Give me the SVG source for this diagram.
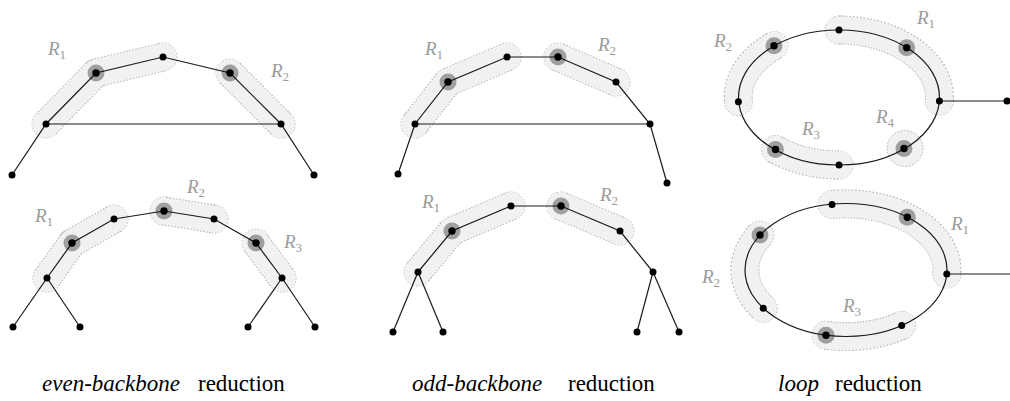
<svg xmlns="http://www.w3.org/2000/svg" width="1010" height="401" viewBox="0 0 1010 401" font-family="Liberation Serif, serif">
<defs>
<path id="r11" d="M46,124 L96,73 L163,57"/>
<path id="r12" d="M230,73 L281,124"/>
<path id="r13" d="M47,278 L72,243 L114,219"/>
<path id="r14" d="M164,211 L214,219"/>
<path id="r15" d="M256,243 L282,278"/>
<path id="r21" d="M415,124 L448,82 L507,57"/>
<path id="r22" d="M558,57 L616,82"/>
<path id="r23" d="M418,272 L452,231 L511,206"/>
<path id="r24" d="M561,206 L620,231"/>
<path id="r31" d="M839,30 A100.5,67.5 0 0 1 939.4,101"/>
<path id="r32" d="M774,45.7 A100.5,67.5 0 0 0 738.4,101.7"/>
<path id="r33" d="M775.5,149.5 A100.5,67.5 0 0 0 839,165"/>
<path id="r41" d="M832,204.5 A101,66.5 0 0 1 946.8,274"/>
<path id="r42" d="M760,235 A101,66.5 0 0 0 763.3,308.3"/>
<path id="r43" d="M826,335.3 A101,66.5 0 0 0 901.7,325.5"/>
<circle id="halo" r="8.5" fill="#000" fill-opacity="0.34"/>
</defs>

<g id="regions">
  <g id="region-outlines" fill="none" stroke="#b3b3b3" stroke-dasharray="1.6 1.6">
    <g stroke-width="29" stroke-linejoin="round">
    <use href="#r11"/><use href="#r12"/><use href="#r13"/><use href="#r14"/><use href="#r15"/>
    <use href="#r21"/><use href="#r22"/><use href="#r23"/><use href="#r24"/>
    <use href="#r31"/><use href="#r32"/><use href="#r33"/><use href="#r41"/><use href="#r42"/><use href="#r43"/>
    </g>
    <g stroke-width="1">
    <circle cx="46" cy="124" r="14"/><circle cx="96" cy="73" r="14"/><circle cx="163" cy="57" r="14"/>
    <circle cx="230" cy="73" r="14"/><circle cx="281" cy="124" r="14"/>
    <circle cx="47" cy="278" r="14"/><circle cx="72" cy="243" r="14"/><circle cx="114" cy="219" r="14"/>
    <circle cx="164" cy="211" r="14"/><circle cx="214" cy="219" r="14"/>
    <circle cx="256" cy="243" r="14"/><circle cx="282" cy="278" r="14"/>
    <circle cx="415" cy="124" r="14"/><circle cx="448" cy="82" r="14"/><circle cx="507" cy="57" r="14"/>
    <circle cx="558" cy="57" r="14"/><circle cx="616" cy="82" r="14"/>
    <circle cx="418" cy="272" r="14"/><circle cx="452" cy="231" r="14"/><circle cx="511" cy="206" r="14"/>
    <circle cx="561" cy="206" r="14"/><circle cx="620" cy="231" r="14"/>
    <circle cx="839" cy="30" r="14"/><circle cx="939.4" cy="101" r="14"/>
    <circle cx="774" cy="45.7" r="14"/><circle cx="738.4" cy="101.7" r="14"/>
    <circle cx="775.5" cy="149.5" r="14"/><circle cx="839" cy="165" r="14"/>
    <circle cx="832" cy="204.5" r="14"/><circle cx="946.8" cy="274" r="14"/>
    <circle cx="760" cy="235" r="14"/><circle cx="763.3" cy="308.3" r="14"/>
    <circle cx="826" cy="335.3" r="14"/><circle cx="901.7" cy="325.5" r="14"/>
    </g>
  </g>
  <g id="region-fills" fill="none" stroke="#f1f1f1" stroke-width="27" stroke-linecap="round" stroke-linejoin="round">
    <use href="#r11"/><use href="#r12"/><use href="#r13"/><use href="#r14"/><use href="#r15"/>
    <use href="#r21"/><use href="#r22"/><use href="#r23"/><use href="#r24"/>
    <use href="#r31"/><use href="#r32"/><use href="#r33"/><use href="#r41"/><use href="#r42"/><use href="#r43"/>
  </g>
  <circle id="region-r4" cx="905" cy="148.5" r="18" fill="#f1f1f1" stroke="#b3b3b3" stroke-width="1" stroke-dasharray="1.6 1.6"/>
</g>

<g id="connectors" fill="none" stroke="#1a1a1a" stroke-width="1.2">
  <polyline points="12,175 46,124 96,73 163,57 230,73 281,124 314,175"/>
  <line x1="46" y1="124" x2="281" y2="124"/>
  <polyline points="47,278 72,243 114,219 164,211 214,219 256,243 282,278"/>
  <line x1="47" y1="278" x2="13" y2="327"/>
  <line x1="47" y1="278" x2="80" y2="327"/>
  <line x1="282" y1="278" x2="248" y2="327"/>
  <line x1="282" y1="278" x2="315" y2="327"/>
  <polyline points="398,174 415,124 448,82 507,57 558,57 616,82 650,124 667,183"/>
  <line x1="415" y1="124" x2="650" y2="124"/>
  <polyline points="418,272 452,231 511,206 561,206 620,231 653,272"/>
  <line x1="418" y1="272" x2="393" y2="332"/>
  <line x1="418" y1="272" x2="443" y2="332"/>
  <line x1="653" y1="272" x2="637" y2="332"/>
  <line x1="653" y1="272" x2="679" y2="332"/>
  <ellipse cx="839" cy="97.5" rx="100.5" ry="67.5"/>
  <line x1="939.4" y1="101" x2="1007" y2="101"/>
  <ellipse cx="846" cy="270" rx="101" ry="66.5"/>
  <line x1="946.8" y1="274" x2="1010" y2="274"/>
</g>

<g id="nodes" fill="#000">
  <g id="eb1-n1"><circle cx="12" cy="175" r="3.5"/></g>
  <g id="eb1-n2"><circle cx="46" cy="124" r="3.5"/></g>
  <g id="eb1-n3"><use href="#halo" x="96" y="73"/><circle cx="96" cy="73" r="3.7"/></g>
  <g id="eb1-n4"><circle cx="163" cy="57" r="3.5"/></g>
  <g id="eb1-n5"><use href="#halo" x="230" y="73"/><circle cx="230" cy="73" r="3.7"/></g>
  <g id="eb1-n6"><circle cx="281" cy="124" r="3.5"/></g>
  <g id="eb1-n7"><circle cx="314" cy="175" r="3.5"/></g>

  <g id="eb2-n1"><circle cx="13" cy="327" r="3.5"/></g>
  <g id="eb2-n2"><circle cx="80" cy="327" r="3.5"/></g>
  <g id="eb2-n3"><circle cx="47" cy="278" r="3.5"/></g>
  <g id="eb2-n4"><use href="#halo" x="72" y="243"/><circle cx="72" cy="243" r="3.7"/></g>
  <g id="eb2-n5"><circle cx="114" cy="219" r="3.5"/></g>
  <g id="eb2-n6"><use href="#halo" x="164" y="211"/><circle cx="164" cy="211" r="3.7"/></g>
  <g id="eb2-n7"><circle cx="214" cy="219" r="3.5"/></g>
  <g id="eb2-n8"><use href="#halo" x="256" y="243"/><circle cx="256" cy="243" r="3.7"/></g>
  <g id="eb2-n9"><circle cx="282" cy="278" r="3.5"/></g>
  <g id="eb2-n10"><circle cx="248" cy="327" r="3.5"/></g>
  <g id="eb2-n11"><circle cx="315" cy="327" r="3.5"/></g>

  <g id="ob1-n1"><circle cx="398" cy="174" r="3.5"/></g>
  <g id="ob1-n2"><circle cx="415" cy="124" r="3.5"/></g>
  <g id="ob1-n3"><use href="#halo" x="448" y="82"/><circle cx="448" cy="82" r="3.7"/></g>
  <g id="ob1-n4"><circle cx="507" cy="57" r="3.5"/></g>
  <g id="ob1-n5"><use href="#halo" x="558" y="57"/><circle cx="558" cy="57" r="3.7"/></g>
  <g id="ob1-n6"><circle cx="616" cy="82" r="3.5"/></g>
  <g id="ob1-n7"><circle cx="650" cy="124" r="3.5"/></g>
  <g id="ob1-n8"><circle cx="667" cy="183" r="3.5"/></g>

  <g id="ob2-n1"><circle cx="393" cy="332" r="3.5"/></g>
  <g id="ob2-n2"><circle cx="443" cy="332" r="3.5"/></g>
  <g id="ob2-n3"><circle cx="418" cy="272" r="3.5"/></g>
  <g id="ob2-n4"><use href="#halo" x="452" y="231"/><circle cx="452" cy="231" r="3.7"/></g>
  <g id="ob2-n5"><circle cx="511" cy="206" r="3.5"/></g>
  <g id="ob2-n6"><use href="#halo" x="561" y="206"/><circle cx="561" cy="206" r="3.7"/></g>
  <g id="ob2-n7"><circle cx="620" cy="231" r="3.5"/></g>
  <g id="ob2-n8"><circle cx="653" cy="272" r="3.5"/></g>
  <g id="ob2-n9"><circle cx="637" cy="332" r="3.5"/></g>
  <g id="ob2-n10"><circle cx="679" cy="332" r="3.5"/></g>

  <g id="lp1-n1"><circle cx="839" cy="30" r="3.5"/></g>
  <g id="lp1-n2"><use href="#halo" x="906.7" y="47.7"/><circle cx="906.7" cy="47.7" r="3.7"/></g>
  <g id="lp1-n3"><circle cx="939.4" cy="101" r="3.5"/></g>
  <g id="lp1-n4"><use href="#halo" x="904" y="148.5"/><circle cx="904" cy="148.5" r="3.7"/></g>
  <g id="lp1-n5"><circle cx="839" cy="165" r="3.5"/></g>
  <g id="lp1-n6"><use href="#halo" x="775.5" y="149.5"/><circle cx="775.5" cy="149.5" r="3.7"/></g>
  <g id="lp1-n7"><circle cx="738.4" cy="101.7" r="3.5"/></g>
  <g id="lp1-n8"><use href="#halo" x="774" y="45.7"/><circle cx="774" cy="45.7" r="3.7"/></g>
  <g id="lp1-n9"><circle cx="1007" cy="101" r="3.5"/></g>

  <g id="lp2-n1"><circle cx="832" cy="204.5" r="3.5"/></g>
  <g id="lp2-n2"><use href="#halo" x="907.3" y="217.3"/><circle cx="907.3" cy="217.3" r="3.7"/></g>
  <g id="lp2-n3"><circle cx="946.8" cy="274" r="3.5"/></g>
  <g id="lp2-n4"><circle cx="901.7" cy="325.5" r="3.5"/></g>
  <g id="lp2-n5"><use href="#halo" x="826" y="335.3"/><circle cx="826" cy="335.3" r="3.7"/></g>
  <g id="lp2-n6"><circle cx="763.3" cy="308.3" r="3.5"/></g>
  <g id="lp2-n7"><use href="#halo" x="760" y="235"/><circle cx="760" cy="235" r="3.7"/></g>
</g>

<text font-family="Liberation Serif" font-style="italic" font-size="19" fill="#9a9a9a" x="48" y="55">R<tspan font-style="normal" font-size="13" dy="4">1</tspan></text>
<text font-family="Liberation Serif" font-style="italic" font-size="19" fill="#9a9a9a" x="271" y="77">R<tspan font-style="normal" font-size="13" dy="4">2</tspan></text>
<text font-family="Liberation Serif" font-style="italic" font-size="19" fill="#9a9a9a" x="35" y="222">R<tspan font-style="normal" font-size="13" dy="4">1</tspan></text>
<text font-family="Liberation Serif" font-style="italic" font-size="19" fill="#9a9a9a" x="187" y="193">R<tspan font-style="normal" font-size="13" dy="4">2</tspan></text>
<text font-family="Liberation Serif" font-style="italic" font-size="19" fill="#9a9a9a" x="284" y="248">R<tspan font-style="normal" font-size="13" dy="4">3</tspan></text>
<text font-family="Liberation Serif" font-style="italic" font-size="19" fill="#9a9a9a" x="425" y="55">R<tspan font-style="normal" font-size="13" dy="4">1</tspan></text>
<text font-family="Liberation Serif" font-style="italic" font-size="19" fill="#9a9a9a" x="598" y="51">R<tspan font-style="normal" font-size="13" dy="4">2</tspan></text>
<text font-family="Liberation Serif" font-style="italic" font-size="19" fill="#9a9a9a" x="422" y="208">R<tspan font-style="normal" font-size="13" dy="4">1</tspan></text>
<text font-family="Liberation Serif" font-style="italic" font-size="19" fill="#9a9a9a" x="600" y="201">R<tspan font-style="normal" font-size="13" dy="4">2</tspan></text>
<text font-family="Liberation Serif" font-style="italic" font-size="19" fill="#9a9a9a" x="917" y="24">R<tspan font-style="normal" font-size="13" dy="4">1</tspan></text>
<text font-family="Liberation Serif" font-style="italic" font-size="19" fill="#9a9a9a" x="714" y="47">R<tspan font-style="normal" font-size="13" dy="4">2</tspan></text>
<text font-family="Liberation Serif" font-style="italic" font-size="19" fill="#9a9a9a" x="802" y="135">R<tspan font-style="normal" font-size="13" dy="4">3</tspan></text>
<text font-family="Liberation Serif" font-style="italic" font-size="19" fill="#9a9a9a" x="876" y="123">R<tspan font-style="normal" font-size="13" dy="4">4</tspan></text>
<text font-family="Liberation Serif" font-style="italic" font-size="19" fill="#9a9a9a" x="951" y="230">R<tspan font-style="normal" font-size="13" dy="4">1</tspan></text>
<text font-family="Liberation Serif" font-style="italic" font-size="19" fill="#9a9a9a" x="702" y="283">R<tspan font-style="normal" font-size="13" dy="4">2</tspan></text>
<text font-family="Liberation Serif" font-style="italic" font-size="19" fill="#9a9a9a" x="843" y="312">R<tspan font-style="normal" font-size="13" dy="4">3</tspan></text>

<text font-family="Liberation Serif" font-size="23" font-style="italic" x="42" y="391">even-backbone</text>
<text font-family="Liberation Serif" font-size="23" x="198" y="391">reduction</text>
<text font-family="Liberation Serif" font-size="23" font-style="italic" x="412" y="391">odd-backbone</text>
<text font-family="Liberation Serif" font-size="23" x="568" y="391">reduction</text>
<text font-family="Liberation Serif" font-size="23" font-style="italic" x="778" y="391">loop</text>
<text font-family="Liberation Serif" font-size="23" x="835" y="391">reduction</text>
</svg>
